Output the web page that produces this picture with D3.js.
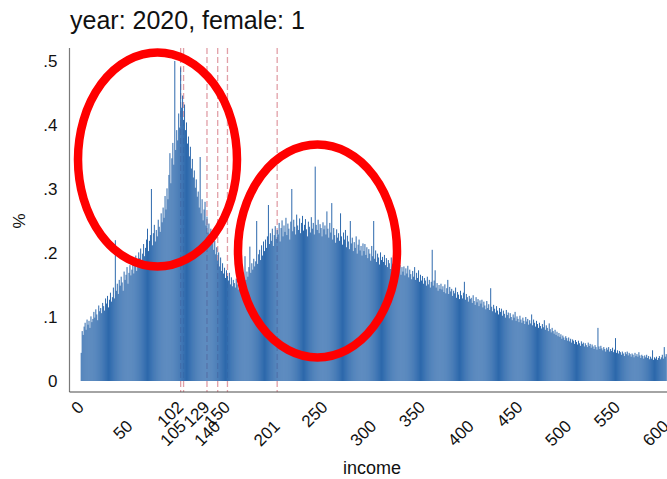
<!DOCTYPE html>
<html>
<head>
<meta charset="utf-8">
<script src="https://cdn.jsdelivr.net/npm/d3@7"></script>
<style>
  html, body { margin: 0; padding: 0; background: #fff; }
  svg { display: block; font-family: "Liberation Sans", Arial, sans-serif; }
</style>
</head>
<body>
<svg id="chart" width="667" height="479"></svg>
<script>
// Income histogram (percent of people at each income value), year 2020, female = 1
const incomeStart = 0;
const pct = [
  .044,.078,.072,.085,.091,.080,.096,.088,.094,.083,
  .101,.092,.097,.108,.099,.112,.104,.095,.118,.109,
  .114,.106,.122,.117,.110,.129,.121,.133,.115,.127,
  .138,.124,.131,.146,.129,.220,.141,.152,.136,.158,
  .149,.163,.154,.141,.171,.158,.166,.178,.152,.169,
  .181,.165,.174,.189,.168,.183,.196,.172,.186,.201,
  .192,.207,.185,.199,.214,.195,.208,.221,.238,.203,
  .219,.228,.300,.212,.231,.244,.218,.236,.226,.252,
  .241,.233,.262,.248,.271,.255,.289,.268,.301,.284,
  .322,.356,.309,.348,.372,.338,.500,.361,.392,.376,
  .418,.396,.490,.427,.446,.408,.432,.392,.404,.371,
  .382,.351,.366,.332,.347,.318,.329,.302,.315,.288,
  .296,.271,.350,.262,.284,.251,.268,.280,.243,.257,
  .232,.246,.221,.238,.214,.226,.205,.219,.198,.209,
  .188,.201,.179,.193,.172,.184,.168,.177,.161,.173,
  .164,.157,.169,.151,.162,.148,.158,.153,.146,.160,
  .151,.143,.157,.149,.141,.155,.162,.148,.195,.158,
  .171,.163,.178,.210,.169,.184,.174,.191,.179,.187,
  .250,.183,.198,.205,.189,.212,.196,.218,.203,.221,
  .208,.226,.275,.214,.231,.219,.238,.211,.228,.242,
  .222,.236,.229,.247,.218,.239,.251,.226,.243,.233,
  .255,.228,.246,.238,.221,.249,.300,.234,.252,.241,
  .229,.260,.243,.236,.254,.231,.247,.258,.235,.244,
  .253,.237,.226,.249,.241,.232,.256,.238,.247,.229,
  .335,.244,.236,.252,.231,.245,.239,.226,.248,.237,
  .243,.229,.265,.238,.224,.247,.232,.278,.221,.239,
  .228,.216,.237,.224,.231,.219,.262,.226,.213,.232,
  .221,.236,.209,.227,.218,.206,.250,.215,.224,.203,
  .217,.208,.226,.199,.213,.221,.204,.211,.196,.215,
  .203,.214,.197,.209,.192,.206,.199,.188,.211,.195,
  .250,.191,.204,.186,.199,.193,.182,.201,.189,.194,
  .186,.197,.181,.192,.178,.189,.184,.175,.193,.179,
  .183,.172,.188,.176,.169,.184,.173,.181,.166,.178,
  .171,.179,.165,.176,.168,.180,.162,.174,.167,.159,
  .172,.163,.178,.158,.169,.161,.173,.155,.166,.157,
  .164,.152,.161,.157,.149,.163,.151,.158,.146,.155,
  .205,.149,.157,.173,.146,.153,.141,.150,.144,.152,
  .143,.148,.139,.151,.137,.145,.158,.136,.147,.140,
  .144,.133,.141,.137,.146,.130,.139,.135,.128,.141,
  .134,.129,.138,.155,.127,.136,.131,.124,.133,.128,
  .130,.122,.134,.125,.119,.131,.123,.128,.117,.126,
  .121,.127,.115,.124,.118,.112,.125,.114,.120,.111,
  .145,.116,.109,.119,.113,.107,.117,.110,.104,.114,
  .108,.113,.102,.110,.105,.099,.111,.103,.107,.098,
  .106,.100,.095,.104,.099,.108,.094,.101,.097,.092,
  .102,.096,.091,.099,.094,.089,.100,.093,.097,.088,
  .095,.090,.104,.087,.096,.091,.085,.094,.089,.083,
  .091,.086,.082,.089,.084,.095,.080,.087,.083,.078,
  .090,.081,.076,.083,.078,.074,.080,.072,.077,.070,
  .075,.069,.073,.066,.071,.068,.064,.070,.067,.063,
  .068,.062,.066,.060,.065,.063,.058,.064,.061,.057,
  .063,.059,.055,.062,.058,.060,.054,.059,.056,.053,
  .060,.055,.058,.052,.057,.054,.050,.056,.053,.049,
  .083,.054,.050,.055,.051,.048,.053,.050,.046,.052,
  .049,.053,.046,.050,.047,.052,.045,.049,.067,.044,
  .048,.043,.047,.045,.041,.046,.043,.039,.045,.042,
  .046,.040,.044,.042,.038,.043,.041,.037,.044,.039,
  .042,.038,.045,.040,.036,.041,.039,.035,.040,.037,
  .041,.036,.039,.034,.038,.035,.048,.033,.037,.035,
  .038,.033,.036,.039,.034,.037,.041,.035,.053,.038,
  .042
];

// Reference lines (dashed) at these income values
const refLines = [102, 105, 129, 140, 150, 201];

// X-axis tick labels (alternating high/low rows)
const xTicks = [0, 50, 102, 105, 129, 140, 150, 201, 250, 300, 350, 400, 450, 500, 550, 600];
const yTicks = [0, .1, .2, .3, .4, .5];

const titleText = "year: 2020, female: 1";
const xTitle = "income";
const yTitle = "%";

const svg = d3.select("#chart");

const x = d3.scaleLinear().domain([0, 600]).range([81.2, 666.2]);
const y = d3.scaleLinear().domain([0, .5]).range([381, 61]);

const plotLeft = 69.5, plotTop = 48, plotBottom = 392;
const step = x(1) - x(0);

// reference lines sit behind the bars
svg.append("g")
  .selectAll("line")
  .data(refLines)
  .join("line")
  .attr("x1", d => x(d)).attr("x2", d => x(d))
  .attr("y1", plotTop).attr("y2", plotBottom)
  .attr("stroke", "#c8505f")
  .attr("stroke-opacity", 0.55)
  .attr("stroke-width", 1.3)
  .attr("stroke-dasharray", "6,3");

// histogram bars
const bars = pct.map((v, i) => ({ income: incomeStart + i, value: v }));
svg.append("g")
  .selectAll("rect")
  .data(bars)
  .join("rect")
  .attr("x", d => x(d.income) - step / 2)
  .attr("width", step)
  .attr("y", d => y(d.value))
  .attr("height", d => y(0) - y(d.value))
  .attr("fill", "#2966ab");

// axis lines
svg.append("line")
  .attr("x1", plotLeft).attr("x2", plotLeft)
  .attr("y1", plotTop).attr("y2", plotBottom)
  .attr("stroke", "#7a7a7a").attr("stroke-width", 1.2);
svg.append("line")
  .attr("x1", plotLeft).attr("x2", 667)
  .attr("y1", plotBottom).attr("y2", plotBottom)
  .attr("stroke", "#4a4a4a").attr("stroke-width", 1.2);

// y axis labels
const yAxis = d3.axisLeft(y)
  .tickValues(yTicks)
  .tickSize(0)
  .tickPadding(12)
  .tickFormat(d => d === 0 ? "0" : d3.format(".1f")(d).replace(/^0/, ""));
const gy = svg.append("g").attr("transform", `translate(${plotLeft},0)`).call(yAxis);
gy.select(".domain").remove();
gy.selectAll("text").attr("font-size", 17).attr("fill", "#111")
  .attr("font-family", "'Liberation Sans', Arial, sans-serif");

// x axis labels, rotated and staggered
const xAxis = d3.axisBottom(x).tickValues(xTicks).tickSize(0).tickFormat(d3.format("d"));
const gx = svg.append("g").attr("transform", `translate(0,${plotBottom})`).call(xAxis);
gx.select(".domain").remove();
gx.selectAll("text")
  .attr("font-size", 17).attr("fill", "#111")
  .attr("font-family", "'Liberation Sans', Arial, sans-serif")
  .attr("text-anchor", "end")
  .attr("x", 0).attr("y", 0).attr("dy", "0.35em")
  .attr("transform", (d, i) => `translate(-1,${i % 2 === 0 ? 12 : 31}) rotate(-45)`);

// titles
svg.append("text")
  .attr("x", 70).attr("y", 29)
  .attr("font-size", 25).attr("fill", "#111")
  .text(titleText);

svg.append("text")
  .attr("x", 372).attr("y", 474)
  .attr("text-anchor", "middle")
  .attr("font-size", 18).attr("fill", "#111")
  .text(xTitle);

svg.append("text")
  .attr("transform", "translate(25,221) rotate(-90)")
  .attr("text-anchor", "middle")
  .attr("font-size", 17).attr("fill", "#111")
  .text(yTitle);

// red ellipse highlights around the two peaks
const highlights = [
  { cx: 157.5, cy: 159.5, rx: 79.5, ry: 107 },
  { cx: 317.5, cy: 251, rx: 79.5, ry: 106.5 }
];
svg.append("g")
  .selectAll("ellipse")
  .data(highlights)
  .join("ellipse")
  .attr("cx", d => d.cx).attr("cy", d => d.cy)
  .attr("rx", d => d.rx).attr("ry", d => d.ry)
  .attr("fill", "none")
  .attr("stroke", "#ff0000")
  .attr("stroke-width", 8.5);
</script>
</body>
</html>
